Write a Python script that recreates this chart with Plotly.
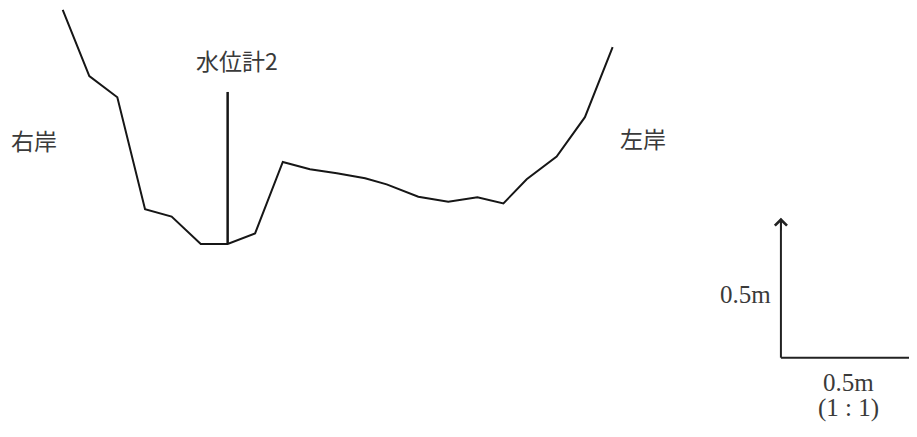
import plotly.graph_objects as go

# River cross-section (distance [m], elevation [m] relative to channel bottom)
distance_m = [0.224, 0.319, 0.419, 0.518, 0.613, 0.717, 0.813, 0.911, 1.010,
              1.107, 1.203, 1.304, 1.381, 1.494, 1.601, 1.705, 1.798, 1.881,
              1.988, 2.089, 2.188]
elevation_m = [0.836, 0.600, 0.524, 0.124, 0.098, 0.000, 0.000, 0.038, 0.293,
               0.267, 0.253, 0.235, 0.213, 0.169, 0.151, 0.167, 0.145, 0.231,
               0.312, 0.453, 0.703]

# Water level gauge 2
gauge_x = 0.813
gauge_bottom = 0.0
gauge_top = 0.543

# Scale bar (0.5 m, 1:1)
scale_origin = (2.789, -0.406)
scale_len = 0.5

labels = {
    "gauge": ("水位計2", 0.845, 0.657),
    "right": ("右岸", 0.123, 0.371),
    "left": ("左岸", 2.295, 0.379),
}

PX_PER_M = 280.0
PAGE_W, PAGE_H = 917, 437
BODY_MARGIN = 8  # default html body margin
W, H = PAGE_W - BODY_MARGIN, PAGE_H - BODY_MARGIN
Y_ZERO_PX = 244.0  # page pixel row of elevation 0

fig = go.Figure()
fig.add_trace(go.Scatter(x=distance_m, y=elevation_m, mode="lines",
                         line=dict(color="#161616", width=2), hoverinfo="skip"))
fig.add_trace(go.Scatter(x=[gauge_x, gauge_x], y=[gauge_bottom, gauge_top], mode="lines",
                         line=dict(color="#161616", width=2.5), hoverinfo="skip"))
ox, oy = scale_origin
fig.add_trace(go.Scatter(x=[ox, ox], y=[oy + scale_len - 0.004, oy], mode="lines",
                         line=dict(color="#222", width=2), hoverinfo="skip"))
fig.add_trace(go.Scatter(x=[ox, ox + scale_len], y=[oy, oy], mode="lines",
                         line=dict(color="#222", width=2), hoverinfo="skip"))

ann = []
ann.append(dict(x=ox, y=oy + scale_len, ax=ox, ay=oy + scale_len - 0.05,
                xref="x", yref="y", axref="x", ayref="y", text="",
                showarrow=True, arrowhead=4, arrowsize=1.3, arrowwidth=1.8,
                arrowcolor="#222"))

jp_font = dict(family="Noto Sans CJK JP, sans-serif", size=23, color="#3a3a3a")
num_font = dict(family="Liberation Serif, serif", size=25, color="#3a3a3a")
for key, (txt, x, y) in labels.items():
    ann.append(dict(x=x, y=y, xref="x", yref="y", text=txt, showarrow=False,
                    font=jp_font, xanchor="center", yanchor="middle"))
ann.append(dict(x=ox - 0.125, y=oy + 0.226, xref="x", yref="y", text="0.5m",
                showarrow=False, font=num_font, xanchor="center", yanchor="middle"))
ann.append(dict(x=ox + 0.243, y=oy - 0.09, xref="x", yref="y", text="0.5m",
                showarrow=False, font=num_font, xanchor="center", yanchor="middle"))
ann.append(dict(x=ox + 0.243, y=oy - 0.18, xref="x", yref="y", text="(1 : 1)",
                showarrow=False, font=num_font, xanchor="center", yanchor="middle"))

fig.update_layout(
    width=W, height=H,
    margin=dict(l=0, r=0, t=0, b=0),
    paper_bgcolor="white", plot_bgcolor="white",
    showlegend=False,
    annotations=ann,
    xaxis=dict(range=[BODY_MARGIN / PX_PER_M, PAGE_W / PX_PER_M], visible=False, fixedrange=True),
    yaxis=dict(range=[(Y_ZERO_PX - PAGE_H) / PX_PER_M, (Y_ZERO_PX - BODY_MARGIN) / PX_PER_M],
               visible=False, fixedrange=True),
)

fig.write_html("out.html")
